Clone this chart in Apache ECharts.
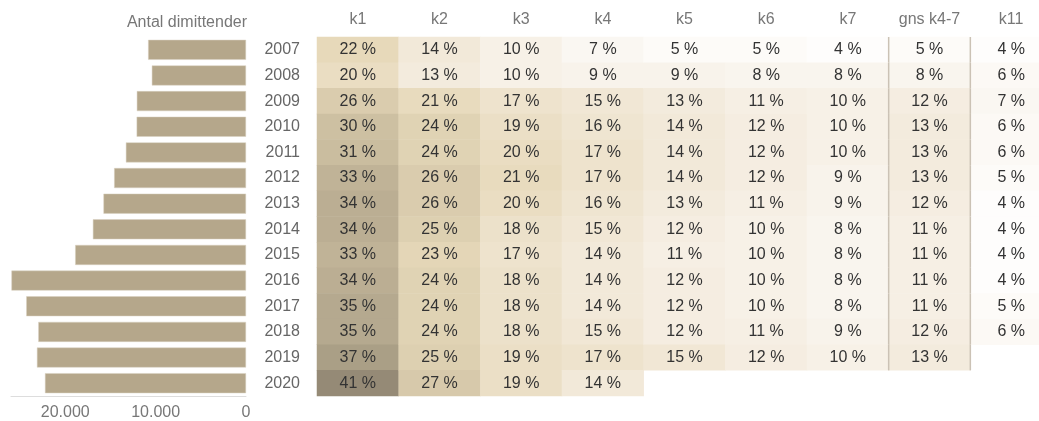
<!DOCTYPE html>
<html>
<head>
<meta charset="utf-8">
<script src="https://cdn.jsdelivr.net/npm/echarts@6/dist/echarts.min.js"></script>
<style>
  html, body { margin: 0; padding: 0; background: #fff; }
  #container { width: 1039px; height: 421px; }
</style>
</head>
<body>
<div id="container"></div>
<script>
var years = ['2007', '2008', '2009', '2010', '2011', '2012', '2013', '2014', '2015', '2016', '2017', '2018', '2019', '2020'];
var columns = ['k1', 'k2', 'k3', 'k4', 'k5', 'k6', 'k7', 'gns k4-7', 'k11'];
var graduates = [10830, 10420, 12080, 12100, 13290, 14590, 15770, 16940, 18900, 25950, 24310, 22980, 23130, 22240];
var axisTicks = [0, 10000, 20000];

// one array per column, one value per year ('-' = no data)
var k1 = [22, 20, 26, 30, 31, 33, 34, 34, 33, 34, 35, 35, 37, 41];
var k2 = [14, 13, 21, 24, 24, 26, 26, 25, 23, 24, 24, 24, 25, 27];
var k3 = [10, 10, 17, 19, 20, 21, 20, 18, 17, 18, 18, 18, 19, 19];
var k4 = [7, 9, 15, 16, 17, 17, 16, 15, 14, 14, 14, 15, 17, 14];
var k5 = [5, 9, 13, 14, 14, 14, 13, 12, 11, 12, 12, 12, 15, '-'];
var k6 = [5, 8, 11, 12, 12, 12, 11, 10, 10, 10, 10, 11, 12, '-'];
var k7 = [4, 8, 10, 10, 10, 9, 9, 8, 8, 8, 8, 9, 10, '-'];
var gns = [5, 8, 12, 13, 13, 13, 12, 11, 11, 11, 11, 12, 13, '-'];
var k11 = [4, 6, 7, 6, 6, 5, 4, 4, 4, 4, 5, 6, '-', '-'];

var dom = document.getElementById('container');
var myChart = echarts.init(dom);

var table = [k1, k2, k3, k4, k5, k6, k7, gns, k11];
var heatData = [];
table.forEach(function (col, c) {
	col.forEach(function (v, r) {
		if (v !== '-') heatData.push([c, r, v]);
	});
});
var gnsIdx = columns.indexOf('gns k4-7');
var borderData = [];
gns.forEach(function (v, r) {
	if (v !== '-') borderData.push([gnsIdx, r]);
});

var textFont = 'Liberation Sans, Arial, sans-serif';

option = {
	animation: false,
	textStyle: { fontFamily: textFont },
	title: {
		text: 'Antal dimittender',
		right: 787,
		top: 10,
		textStyle: { fontSize: 16, fontWeight: 'normal', color: '#777', fontFamily: textFont }
	},
	grid: [{
		left: 11, top: 37, width: 235, height: 359, outerBoundsMode: 'none'
	}, {
		left: 317, top: 37, width: 735, height: 359, outerBoundsMode: 'none'
	}],
	visualMap: {
		show: false,
		seriesIndex: 1,
		dimension: 2,
		min: 3,
		max: 41,
		inRange: { color: ['#ffffff', '#f4ecdf', '#e7d9ba', '#c8bb9d', '#958a76'] }
	},
	xAxis: [{
		gridIndex: 0,
		type: 'value',
		inverse: true,
		min: 0,
		max: 26000,
		interval: 10000,
		splitLine: { show: false },
		axisTick: { show: false },
		axisLine: { show: true, lineStyle: { color: '#dddddd' } },
		axisLabel: {
			showMaxLabel: false,
			color: '#777',
			fontSize: 16,
			margin: 9,
			formatter: function (v) {
				if (axisTicks.indexOf(v) < 0) return '';
				return String(v).replace(/\B(?=(\d{3})+(?!\d))/g, '.');
			}
		}
	}, {
		gridIndex: 1,
		type: 'category',
		position: 'top',
		data: columns,
		axisLine: { show: false },
		axisTick: { show: false },
		splitLine: { show: false },
		axisLabel: { color: '#777', fontSize: 16, margin: 9 }
	}],
	yAxis: [{
		gridIndex: 0,
		type: 'category',
		inverse: true,
		data: years,
		axisLine: { show: false },
		axisTick: { show: false },
		axisLabel: { show: false }
	}, {
		gridIndex: 1,
		type: 'category',
		inverse: true,
		data: years,
		axisLine: { show: false },
		axisTick: { show: false },
		splitLine: { show: false },
		axisLabel: { color: '#666', fontSize: 16, margin: 17 }
	}],
	series: [{
		type: 'bar',
		xAxisIndex: 0,
		yAxisIndex: 0,
		data: graduates,
		barWidth: '78%',
		itemStyle: { color: '#b5a78b', borderColor: '#d9d0c0', borderWidth: 0.5 }
	}, {
		type: 'heatmap',
		xAxisIndex: 1,
		yAxisIndex: 1,
		data: heatData,
		label: {
			show: true,
			color: '#333',
			fontSize: 16,
			formatter: function (p) { return p.value[2] + ' %'; }
		}
	}, {
		type: 'custom',
		xAxisIndex: 1,
		yAxisIndex: 1,
		data: borderData,
		z: 5,
		renderItem: function (params, api) {
			var c = api.coord([api.value(0), api.value(1)]);
			var s = api.size([1, 1]);
			var x0 = c[0] - s[0] / 2, x1 = c[0] + s[0] / 2;
			var y0 = c[1] - s[1] / 2, y1 = c[1] + s[1] / 2;
			var st = { stroke: '#cbc2b5', lineWidth: 1.5 };
			return {
				type: 'group',
				children: [
					{ type: 'line', shape: { x1: x0, y1: y0, x2: x0, y2: y1 }, style: st },
					{ type: 'line', shape: { x1: x1, y1: y0, x2: x1, y2: y1 }, style: st }
				]
			};
		}
	}]
};

if (option && typeof option === 'object') {
	myChart.setOption(option, true);
}
</script>
</body>
</html>
